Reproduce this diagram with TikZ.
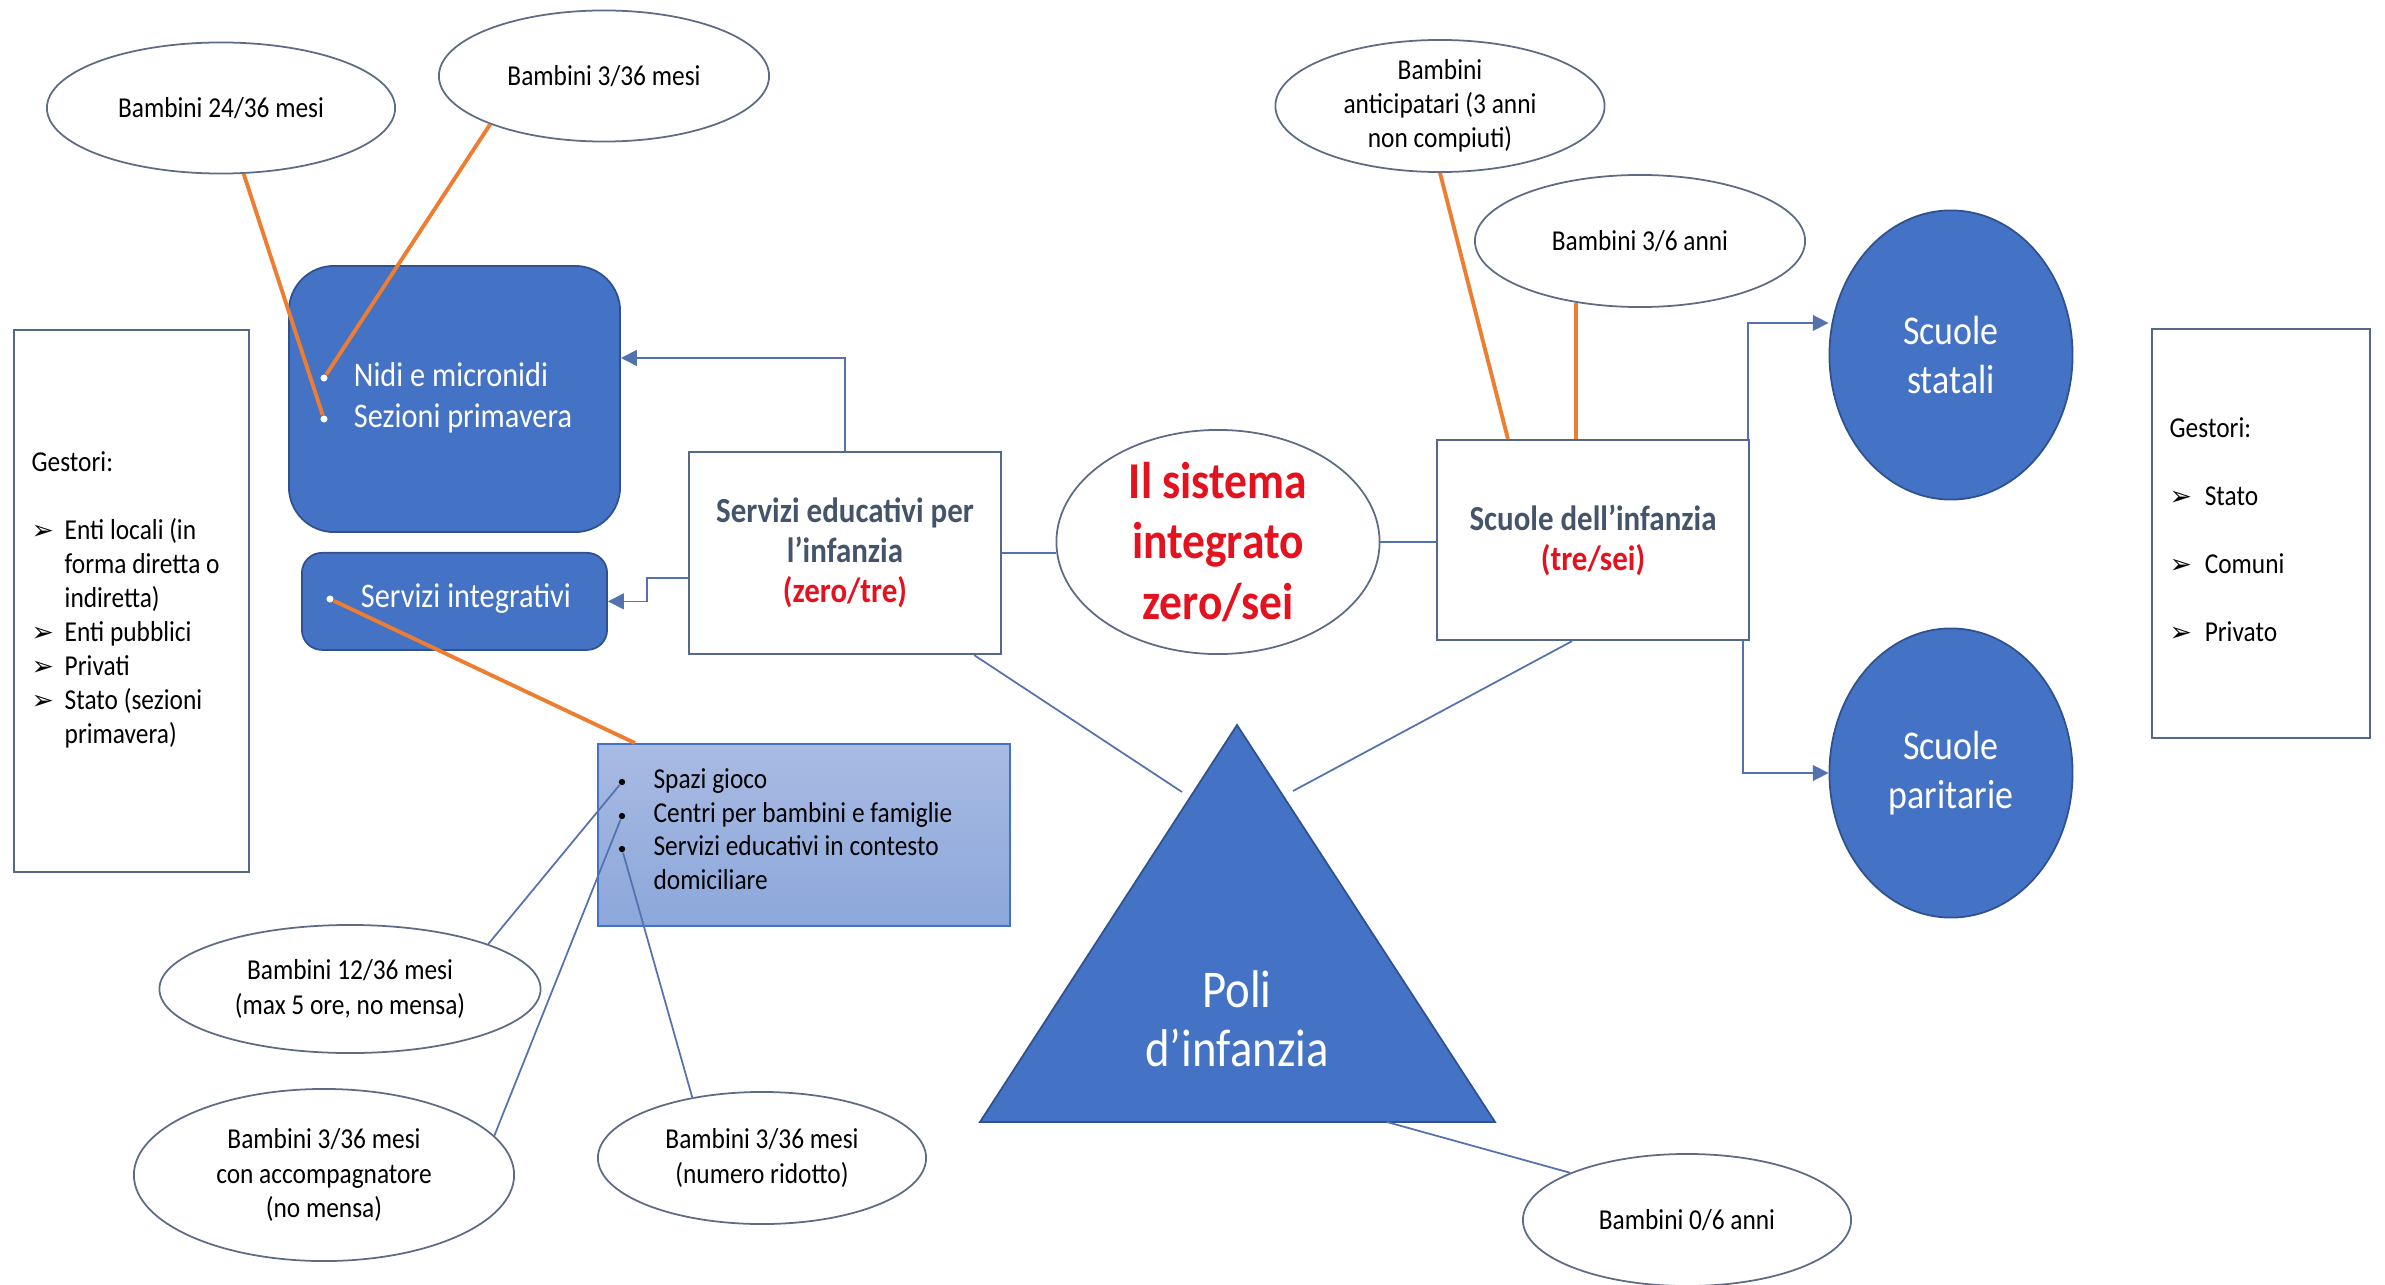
\documentclass[tikz,border=0pt]{standalone}
\usepackage{fontspec}
\setmainfont{Carlito}[FakeStretch=0.88]
\newfontfamily\dingfont{DejaVu Sans}
\usepackage{tikz}
\usetikzlibrary{positioning,shapes,calc,arrows.meta}
\definecolor{accent}{HTML}{4472C4}
\definecolor{accentdark}{HTML}{2F528F}
\definecolor{lighttop}{HTML}{A8BBE3}
\definecolor{lightbot}{HTML}{8CA7DA}
\definecolor{boxline}{HTML}{56688A}
\definecolor{ovalline}{HTML}{5E6B86}
\definecolor{linkc}{HTML}{5473AE}
\definecolor{orangeln}{HTML}{ED7D31}
\definecolor{titlered}{HTML}{E3121E}
\definecolor{titleblue}{HTML}{44546A}
\newcommand\smalltxt{\fontsize{8.2}{9.7}\selectfont}
\newcommand\arrbul{{\dingfont\fontsize{7.6}{7.6}\selectfont ➢}}

\begin{document}
\begin{tikzpicture}[
  x = 0.01cm,
  y = -0.01cm,
  plain/.style = {
    draw = boxline,
    line width = 0.6pt,
    rectangle,
    fill = white,
    inner sep = 0pt,
  },
  blob/.style = {
    draw = accentdark,
    line width = 0.5pt,
    fill = accent,
    text = white,
    inner sep = 0pt,
  },
  oval/.style = {
    draw = ovalline,
    line width = 0.5pt,
    ellipse,
    fill = white,
    inner sep = -3pt,
    align = center,
    font = \smalltxt,
  },
  bluoval/.style = {
    blob,
    ellipse,
    align = center,
    font = \fontsize{11.6}{13.8}\selectfont,
  },
  head/.style = {
    plain,
    align = center,
    text = titleblue,
    font = \bfseries\fontsize{10}{11.3}\selectfont,
  },
  txt/.style = {inner sep = 0pt, text height = 3.8pt, text depth = 0pt, font = \smalltxt},
  wtxt/.style = {inner sep = 0pt, text height = 4.6pt, text depth = 0pt, text = white,
    font = \fontsize{9.8}{11}\selectfont},
  wdot/.style = {circle, fill = white, inner sep = 0pt, minimum size = 2pt},
  bdot/.style = {circle, fill = black, inner sep = 0pt, minimum size = 1.8pt},
  link/.style = {draw = linkc, line width = 0.5pt},
  hint/.style = {draw = orangeln, line width = 1.1pt},
  >={Triangle[length=4.5pt,width=4.5pt]},
]

  \useasboundingbox (0,0) rectangle (2385,1285);

  % gestori
  \node[plain, minimum width=2.35cm, minimum height=5.42cm] (gestL) at (131.5,601) {};
  \node[anchor=base west, inner sep=0pt, font=\smalltxt] (gestLtxt) at (31,471) {%
    \begin{tabular}[t]{@{}p{0.33cm}@{}l@{}}
      \multicolumn{2}{@{}l@{}}{Gestori:}\\
      \\
      \arrbul & Enti locali (in\\
              & forma diretta o\\
              & indiretta)\\
      \arrbul & Enti pubblici\\
      \arrbul & Privati\\
      \arrbul & Stato (sezioni\\
              & primavera)
    \end{tabular}};

  \node[plain, minimum width=2.18cm, minimum height=4.09cm] (gestR) at (2261,533.5) {};
  \node[anchor=base west, inner sep=0pt, font=\smalltxt] (gestRtxt) at (2169,437) {%
    \begin{tabular}[t]{@{}p{0.35cm}@{}l@{}}
      \multicolumn{2}{@{}l@{}}{Gestori:}\\
      \\
      \arrbul & Stato\\
      \\
      \arrbul & Comuni\\
      \\
      \arrbul & Privato
    \end{tabular}};

  % zero/tre
  \node[blob, rounded corners=0.45cm, minimum width=3.31cm, minimum height=2.66cm] (nidi) at (454.5,399) {};
  \node[blob, rounded corners=0.2cm, minimum width=3.05cm, minimum height=0.97cm] (integr) [below=0.19cm of nidi] {};

  \node[wdot] (bNidi) at (324,378) {};
  \node[wtxt, right=0.25cm of bNidi] (tNidi) {Nidi e micronidi};
  \node[wdot] (bSez) at (324,419) {};
  \node[wtxt, right=0.25cm of bSez] (tSez) {Sezioni primavera};
  \node[wdot] (bInt) at (330,599) {};
  \node[wtxt, right=0.26cm of bInt] (tInt) {Servizi integrativi};

  \node[head, minimum width=3.12cm, minimum height=2.02cm] (edu) at (845,553)
    {Servizi educativi per\\l’infanzia\\{\color{titlered}(zero/tre)}};

  \node[oval, minimum width=3.23cm, minimum height=2.24cm, text=titlered,
    font=\bfseries\fontsize{14.7}{17.3}\selectfont] (sys) at (1218,542) {Il sistema\\integrato\\zero/sei};

  % tre/sei
  \node[head, minimum width=3.12cm, minimum height=2.00cm] (inf) at (1593,540)
    {Scuole dell’infanzia\\{\color{titlered}(tre/sei)}};
  \node[bluoval, minimum width=2.43cm, minimum height=2.89cm] (stat) at (1951,355) {Scuole\\statali};
  \node[bluoval, minimum width=2.43cm, minimum height=2.89cm] (par) at (1951,773) {Scuole\\paritarie};

  % servizi integrativi
  \node[rectangle, draw=accent, line width=0.5pt, top color=lighttop, bottom color=lightbot,
    minimum width=4.12cm, minimum height=1.82cm] (gioco) at (804,835) {};
  \node[bdot] (bSpazi) at (622,782) {};
  \node[txt, right=0.27cm of bSpazi] (tSpazi) {Spazi gioco};
  \node[bdot] (bCentri) at (622,816) {};
  \node[txt, right=0.27cm of bCentri] (tCentri) {Centri per bambini e famiglie};
  \node[bdot] (bServ) at (622,849) {};
  \node[txt, right=0.27cm of bServ] (tServ) {Servizi educativi in contesto};
  \node[txt, anchor=west] (tDom) at ([yshift=-0.34cm]tServ.west) {domiciliare};

  % poli
  \coordinate (apex) at (1237,725);
  \coordinate (bl) at (980,1122);
  \coordinate (br) at (1495,1122);
  \filldraw[fill=accent, draw=accentdark, line width=0.5pt] (apex) -- (br) -- (bl) -- cycle;
  \node[text=white, align=center, inner sep=0pt, font=\fontsize{15.1}{16.8}\selectfont] (poli) at (1237,1019) {Poli\\d’infanzia};
  \coordinate (poliL) at (1182,792);
  \coordinate (poliR) at (1293,791);
  \coordinate (poliB) at ($(bl)!0.79!(br)$);

  % bambini
  \node[oval, minimum width=3.48cm, minimum height=1.31cm] (b2436) at (221,108) {Bambini 24/36 mesi};
  \node[oval, minimum width=3.30cm, minimum height=1.31cm] (b336) at (604,76) {Bambini 3/36 mesi};
  \node[oval, minimum width=3.29cm, minimum height=1.32cm] (bant) at (1440,106) {Bambini\\anticipatari (3 anni\\non compiuti)};
  \node[oval, minimum width=3.30cm, minimum height=1.32cm] (b36) at (1640,241) {Bambini 3/6 anni};
  \node[oval, minimum width=3.81cm, minimum height=1.28cm] (b1236) at (350,989) {Bambini 12/36 mesi\\(max 5 ore, no mensa)};
  \node[oval, minimum width=3.80cm, minimum height=1.72cm] (bacc) at (324,1175) {Bambini 3/36 mesi\\con accompagnatore\\(no mensa)};
  \node[oval, minimum width=3.28cm, minimum height=1.32cm] (brid) at (762,1158) {Bambini 3/36 mesi\\(numero ridotto)};
  \node[oval, minimum width=3.28cm, minimum height=1.32cm] (b06) at (1687,1220) {Bambini 0/6 anni};

  % collegamenti
  \draw[link] (edu.east) -- (edu.east -| sys.west);
  \draw[link] (sys.east) -- (sys.east -| inf.west);
  \draw[link] ([xshift=-0.28cm]edu.south east) -- (poliL);
  \draw[link] ([xshift=-1.78cm]inf.south east) -- (poliR);
  \draw[link] (poliB) -- (b06.158);

  \draw[link,->] (edu.north) |- ([yshift=0.41cm]nidi.east);
  \draw[link,->] ([yshift=-0.25cm]edu.west) -- ++(-41,0) |- (integr.east);
  \draw[link,->] ([xshift=-0.02cm]inf.north east) |- ([yshift=0.32cm]stat.west);
  \draw[link,->] ([xshift=-0.07cm]inf.south east) |- (par.west);

  \draw[link] (b1236.18) -- (bSpazi);
  \draw[link] (bacc.13) -- (bCentri);
  \draw[link] (brid.139) -- (bServ);

  \draw[hint] (b2436.289) -- (bSez);
  \draw[hint] (b336.203) -- (bNidi);
  \draw[hint] (bInt) -- ([xshift=0.38cm]gioco.north west);
  \draw[hint] (bant.south) -- ([xshift=0.72cm]inf.north west);
  \draw[hint] (b36.224) -- (b36.224 |- inf.north);

\end{tikzpicture}
\end{document}
